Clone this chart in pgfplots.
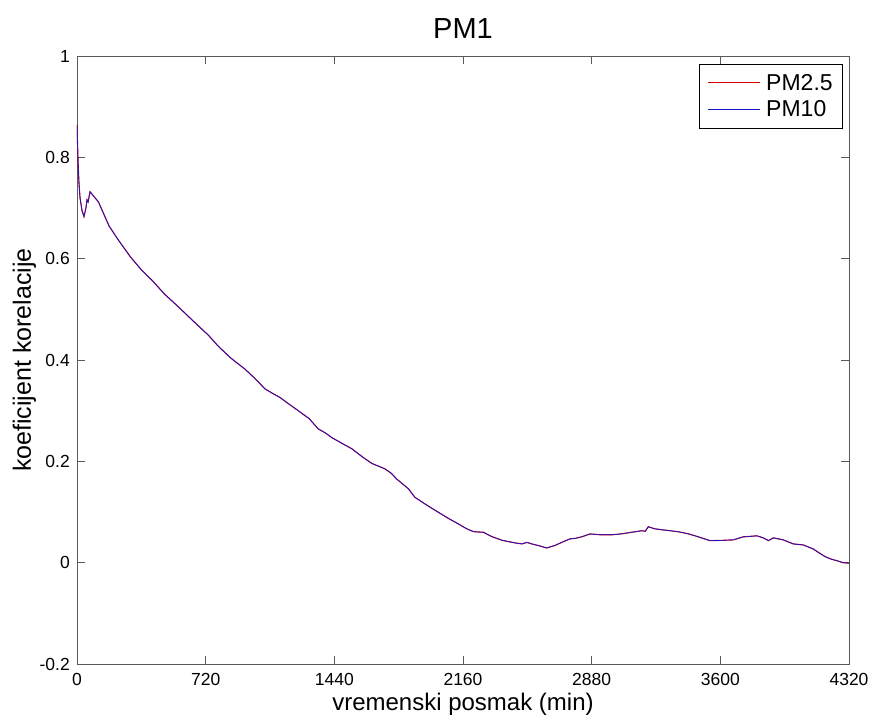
\documentclass[border=0pt]{standalone}
\usepackage{fontspec}
\setmainfont{Liberation Sans}
\usepackage{pgfplots}
\usepackage{pgfplotstable}
\pgfplotsset{compat=1.18}
\definecolor{axgray}{RGB}{90,90,90}
\definecolor{pmred}{RGB}{210,0,0}
\definecolor{pmblue}{RGB}{20,20,210}
\pgfplotstableread{
x y
0 0.864
6 0.790
11 0.750
17 0.720
28 0.695
39 0.683
50 0.700
56 0.716
62 0.712
73 0.732
120 0.712
180 0.664
231 0.637
300 0.603
360 0.578
418 0.558
490 0.530
567 0.505
650 0.477
735 0.449
791 0.427
860 0.404
940 0.382
1000 0.362
1052 0.343
1100 0.333
1136 0.326
1190 0.312
1238 0.300
1300 0.284
1350 0.264
1390 0.256
1425 0.247
1480 0.236
1537 0.225
1600 0.208
1649 0.196
1690 0.190
1724 0.185
1760 0.176
1789 0.165
1820 0.156
1854 0.146
1891 0.129
1960 0.113
2022 0.0995
2080 0.087
2134 0.0765
2180 0.067
2218 0.0613
2250 0.0605
2274 0.060
2321 0.0514
2380 0.044
2451 0.039
2490 0.037
2517 0.040
2545 0.037
2590 0.033
2628 0.029
2675 0.034
2712 0.040
2759 0.047
2790 0.048
2824 0.051
2871 0.0567
2930 0.055
2992 0.055
3050 0.057
3104 0.060
3160 0.063
3180 0.062
3197 0.071
3230 0.067
3272 0.065
3320 0.063
3365 0.061
3420 0.057
3477 0.051
3542 0.0435
3610 0.044
3673 0.045
3700 0.048
3729 0.051
3770 0.052
3804 0.053
3840 0.049
3869 0.0435
3897 0.049
3952 0.045
4008 0.037
4064 0.035
4120 0.027
4150 0.020
4186 0.012
4220 0.007
4251 0.004
4288 0.000
4320 -0.001
}\datatable
\begin{document}
\begin{tikzpicture}
\begin{axis}[
  at={(0,0)}, anchor=south west,
  scale only axis, width=772bp, height=608bp,
  xmin=0, xmax=4320, ymin=-0.2, ymax=1,
  xtick={0,720,1440,2160,2880,3600,4320},
  xticklabels={0,720,1440,2160,2880,3600,4320},
  ytick={-0.2,0,0.2,0.4,0.6,0.8,1},
  yticklabels={-0.2,0,0.2,0.4,0.6,0.8,1},
  tick align=inside, ticks=major,
  major tick length=8bp,
  axis line style={axgray, line width=0.8bp},
  every tick/.style={axgray, line width=0.8bp},
  xtick pos=both, ytick pos=both,
  xticklabel style={font=\fontsize{17.5bp}{20bp}\selectfont, inner sep=0pt, anchor=north, yshift=-9bp},
  yticklabel style={font=\fontsize{17.5bp}{20bp}\selectfont, inner sep=0pt, anchor=east, xshift=-7bp},
  xlabel={vremenski posmak (min)},
  ylabel={koeficijent korelacije},
  xlabel style={font=\fontsize{24bp}{28bp}\selectfont, at={(axis description cs:0.5,-0.0757)}, anchor=base, inner sep=0pt},
  ylabel style={font=\fontsize{25bp}{28bp}\selectfont, at={(axis description cs:-0.0596,0.5)}, anchor=base, rotate=0, inner sep=0pt},
  title={PM1},
  title style={font=\fontsize{29bp}{33bp}\selectfont, at={(axis description cs:0.5,1.019)}, anchor=base, inner sep=0pt},
  legend style={at={(axis description cs:0.9922,0.9868)}, anchor=north east,
    draw=black, line width=0.6bp, font=\fontsize{23bp}{26bp}\selectfont,
    inner xsep=8bp, inner ysep=8bp, row sep=5bp,
    /tikz/every odd column/.append style={column sep=4bp}},
  legend cell align=left,
  legend image code/.code={\draw[#1, line width=0.9bp] (0bp,0.4bp) -- (52bp,0.4bp);},
]
\addplot[color=pmred, line width=1.1bp] table[x=x,y=y] {\datatable};
\addlegendentry{PM2.5}
\addplot[color=pmblue, line width=0.7bp] table[x=x,y=y] {\datatable};
\addlegendentry{PM10}
\end{axis}
\path[use as bounding box] (-77bp,-56bp) rectangle (795bp,664bp);
\end{tikzpicture}
\end{document}
